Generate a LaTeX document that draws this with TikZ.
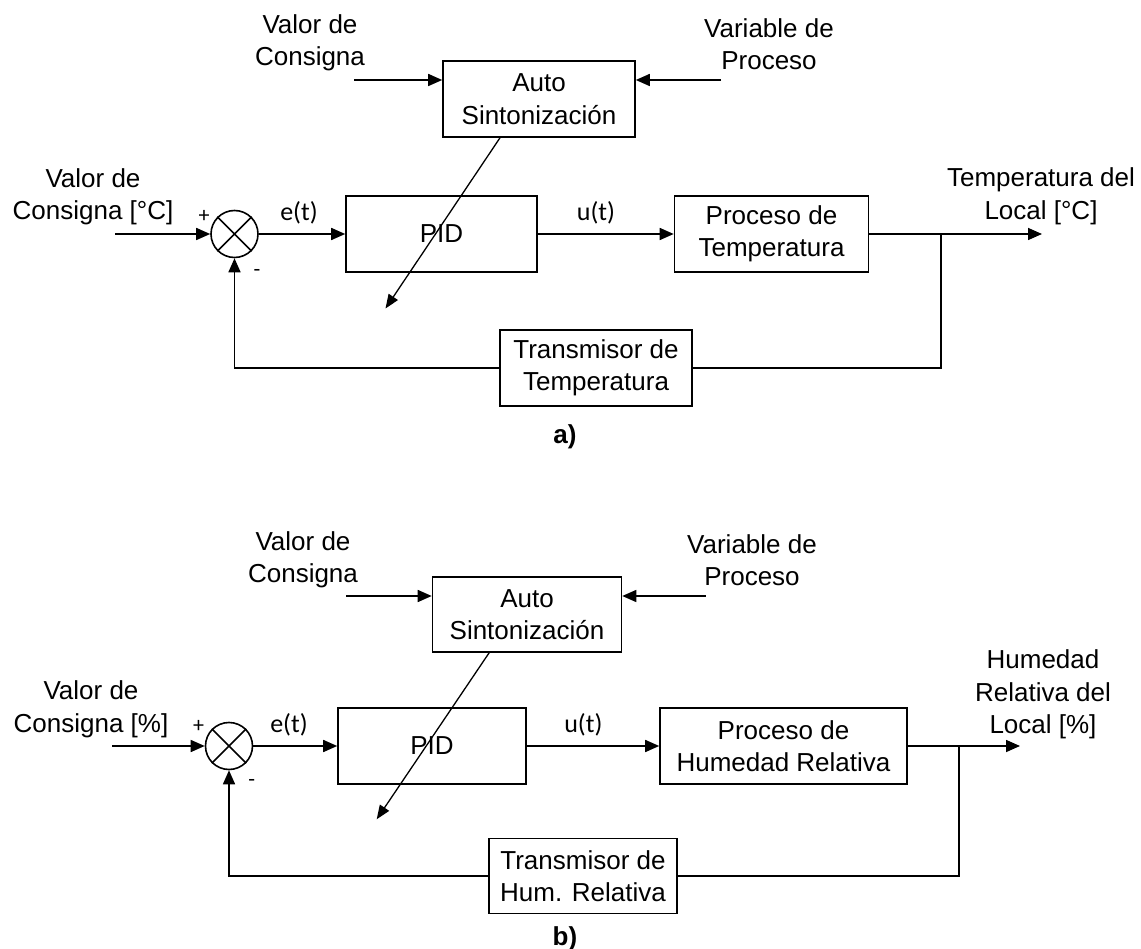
\documentclass[tikz,border=0pt]{standalone}
\usepackage{fontspec}
\setmainfont{Liberation Sans}
\newfontfamily\sigfont{Carlito}
\usetikzlibrary{arrows.meta}

\begin{document}
\begin{tikzpicture}[x=1pt,y=-1pt,
  every node/.style={inner sep=0pt},
  txt/.style={font=\fontsize{26}{32.5}\selectfont, align=center},
  blk/.style={draw, line width=1.6pt, txt, minimum height=76pt},
  sumj/.style={draw, circle, minimum size=47pt, line width=1.6pt},
  sig/.style={font=\sigfont\fontsize{26}{30}\selectfont, anchor=base},
  sgn/.style={font=\sigfont\fontsize{22}{24}\selectfont},
  figtag/.style={font=\bfseries\fontsize{26}{30}\selectfont, anchor=base},
  wire/.style={line width=1.6pt},
  flow/.style={wire, -{Triangle[length=14pt,width=12pt]}},
  tune/.style={line width=1.3pt, -{Triangle[length=14pt,width=11pt]}}]

\useasboundingbox (0,0) rectangle (1141,949);

% ---------------- a) temperature loop ----------------
\node[blk, minimum width=192pt] (autoA) at (539,99) {Auto\\Sintonización};
\node[blk, minimum width=191pt] (pidA) at (441.5,234) {PID};
\node[blk, minimum width=194pt] (procA) at (771.5,234) {Proceso de\\Temperatura};
\node[blk, minimum width=192pt] (transA) at (596,368) {Transmisor de\\Temperatura};
\node[sumj] (sumA) at (234.5,234) {};
\draw[wire] (sumA.45) -- (sumA.225) (sumA.135) -- (sumA.315);

\node[txt] (spA) at (310,43) {Valor de\\Consigna};
\node[txt] (pvA) at (769,44) {Variable de\\Proceso};
\node[txt] (refA) at (93,197) {Valor de\\Consigna [°C]};
\node[txt] (yA) at (1041,196.3) {Temperatura del\\Local [°C]};
\node[sig] (eA) at (299,220.5) {e(t)};
\node[sig] (uA) at (596,220.5) {u(t)};
\node[sgn] (plusA) at (204,216) {+};
\node[sgn] (minusA) at (257,273) {-};
\node[figtag] (tagA) at (565,444) {a)};

\coordinate (spAs) at (354,80);
\coordinate (pvAs) at (721,80);
\coordinate (refAs) at (115,234);
\coordinate (brA) at (941,234);
\coordinate (yAt) at (1042,234);
\coordinate (tuneA) at ([xshift=-39pt]autoA.south);
\coordinate (tuneAt) at (385.5,308.5);

\draw[flow] (spAs) -- (spAs -| autoA.west);
\draw[flow] (pvAs) -- (pvAs -| autoA.east);
\draw[flow] (refAs) -- (sumA.west);
\draw[flow] (sumA.east) -- (pidA.west);
\draw[flow] (pidA.east) -- (procA.west);
\draw[flow] (procA.east) -- (yAt);
\draw[wire] (brA) |- (transA.east);
\draw[flow] (transA.west) -| (sumA.south);
\draw[tune] (tuneA) -- (tuneAt);

% ---------------- b) relative humidity loop ----------------
\node[blk, minimum width=189pt, minimum height=74.5pt] (autoB) at (527,614.5) {Auto\\Sintonización};
\node[blk, minimum width=188pt] (pidB) at (432,746) {PID};
\node[blk, minimum width=247pt] (procB) at (783.5,746) {Proceso de\\Humedad Relativa};
\node[blk, minimum width=188pt, minimum height=75pt] (transB) at (583,876) {Transmisor de\\Hum. Relativa};
\node[sumj] (sumB) at (229,746) {};
\draw[wire] (sumB.45) -- (sumB.225) (sumB.135) -- (sumB.315);

\node[txt] (spB) at (303,559.6) {Valor de\\Consigna};
\node[txt] (pvB) at (752,560.4) {Variable de\\Proceso};
\node[txt] (refB) at (91,709.3) {Valor de\\Consigna [\%]};
\node[txt] (yB) at (1043,694.3) {Humedad\\Relativa del\\Local [\%]};
\node[sig] (eB) at (289,732) {e(t)};
\node[sig] (uB) at (583.4,732) {u(t)};
\node[sgn] (plusB) at (198.7,726.7) {+};
\node[sgn] (minusB) at (251.7,783) {-};
\node[figtag] (tagB) at (565,945) {b)};

\coordinate (spBs) at (346,596);
\coordinate (pvBs) at (705.7,596);
\coordinate (refBs) at (112,746);
\coordinate (brB) at (959,746);
\coordinate (yBt) at (1020,746);
\coordinate (tuneB) at ([xshift=-37.7pt]autoB.south);
\coordinate (tuneBt) at (376.7,819.3);

\draw[flow] (spBs) -- (spBs -| autoB.west);
\draw[flow] (pvBs) -- (pvBs -| autoB.east);
\draw[flow] (refBs) -- (sumB.west);
\draw[flow] (sumB.east) -- (pidB.west);
\draw[flow] (pidB.east) -- (procB.west);
\draw[flow] (procB.east) -- (yBt);
\draw[wire] (brB) |- (transB.east);
\draw[flow] (transB.west) -| (sumB.south);
\draw[tune] (tuneB) -- (tuneBt);

\end{tikzpicture}
\end{document}
